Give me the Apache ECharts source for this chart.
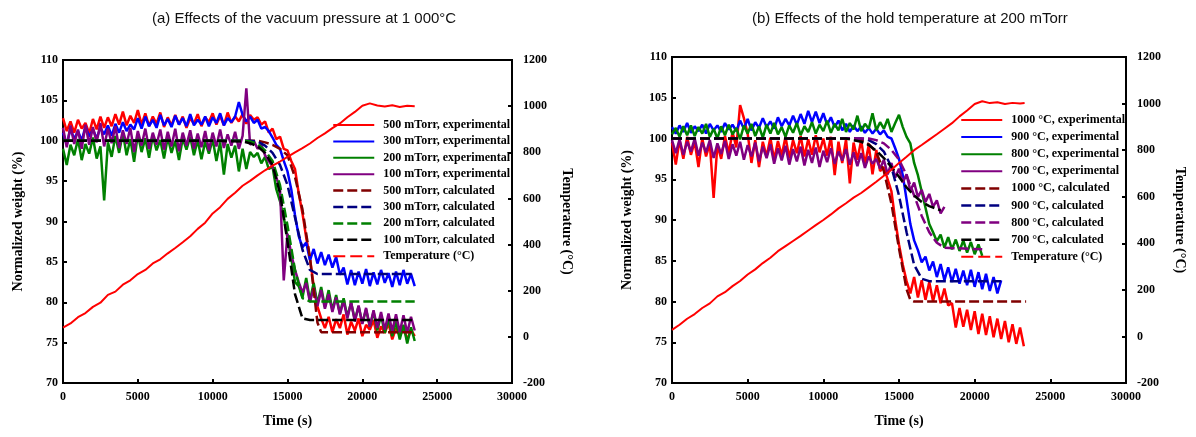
<!DOCTYPE html>
<html>
<head>
<meta charset="utf-8">
<script src="https://cdn.jsdelivr.net/npm/echarts@6/dist/echarts.min.js"></script>
<style>
html,body{margin:0;padding:0;background:#fff}
#chart{width:1196px;height:437px}
</style>
</head>
<body>
<div id="chart"></div>
<script>
// Sampling times (s) of the thermogravimetric records
const tGrid = [0,250,500,750,1000,1250,1500,1750,2000,2250,2500,2750,3000,3250,3500,3750,4000,4250,4500,4750,
  5000,5250,5500,5750,6000,6250,6500,6750,7000,7250,7500,7750,8000,8250,8500,8750,9000,9250,9500,9750,
  10000,10250,10500,10750,11000,11250,11500,11750,12000,12250,12500,12750,13000,13250,13500,13750,14000,14250,14500,14750,
  15000,15250,15500,15750,16000,16250,16500,16750,17000,17250,17500,17750,18000,18250,18500,18750,19000,19250,19500,19750,
  20000,20250,20500,20750,21000,21250,21500,21750,22000,22250,22500,22750,23000,23250,23500];

// (a) normalized weight (%) at 1000 °C for different vacuum pressures
const wA500 = [102.8,101.2,102.4,101.0,102.6,101.5,102.2,100.9,102.7,101.4,
  103.0,101.6,102.9,101.8,103.3,102.0,103.6,101.9,103.1,102.2,
  103.8,102.0,103.4,101.8,103.0,102.1,103.5,101.7,102.9,101.9,
  103.2,102.0,103.0,101.6,102.8,102.1,103.3,101.8,102.9,102.3,
  103.4,102.0,103.1,101.9,103.5,102.2,103.0,102.4,103.3,102.1,
  103.2,102.6,102.9,102.0,102.4,101.0,101.5,100.2,100.5,99.0,
  98.8,97.5,96.5,93.5,91.0,88.0,85.5,82.0,79.5,78.0,
  76.8,78.2,76.3,77.9,76.8,78.5,76.0,77.6,76.5,78.0,
  75.8,77.2,76.6,77.8,75.6,77.0,76.2,77.4,75.4,76.8,
  75.9,77.1,75.3,76.6,75.8];
const wA300 = [101.0,99.5,101.5,100.2,101.2,100.0,101.8,100.5,101.4,100.3,
  101.6,100.8,101.9,100.6,102.1,101.0,102.3,101.2,102.0,101.4,
  102.8,101.5,103.0,101.8,102.6,101.6,103.2,101.9,102.7,101.7,
  103.1,102.0,102.8,101.8,103.3,101.9,102.6,102.0,103.0,101.8,
  102.9,102.2,103.4,101.9,102.8,102.3,103.0,104.8,103.2,102.4,
  103.0,102.2,102.6,101.5,101.7,101.2,100.4,99.5,99.0,97.5,
  96.2,94.0,90.8,88.2,86.8,87.4,85.2,86.6,84.8,86.2,
  84.6,85.9,84.3,85.6,83.4,84.3,82.2,84.0,82.1,83.8,
  82.3,84.1,82.0,83.7,82.2,84.0,82.4,83.6,81.9,83.8,
  82.1,84.0,82.3,83.5,82.0];
const wA200 = [99.0,97.0,99.5,98.2,100.2,97.6,99.6,98.4,100.4,97.8,
  99.3,92.6,99.8,98.0,100.6,98.5,101.0,98.2,100.2,97.4,
  100.8,98.6,100.3,97.9,100.6,98.8,100.1,97.8,100.4,98.5,
  100.0,97.6,100.3,98.9,100.5,98.2,100.1,97.7,99.9,98.4,
  100.2,97.5,99.8,95.8,99.6,97.9,99.4,96.2,99.0,96.5,
  98.6,98.0,98.5,97.2,98.0,96.5,96.8,94.0,92.5,90.5,
  88.0,85.5,82.5,82.0,80.6,83.0,80.2,82.4,79.8,81.9,
  79.4,81.5,79.0,80.9,78.6,80.5,78.2,80.0,77.8,79.5,
  77.4,79.1,77.0,78.8,76.5,78.4,76.2,78.0,75.8,77.6,
  75.4,77.2,74.9,76.9,75.2];
const wA100 = [101.6,99.2,101.9,99.6,101.4,99.0,102.0,99.5,101.7,99.8,
  102.2,99.3,101.5,99.7,101.8,99.1,101.3,99.6,101.6,98.6,
  101.2,99.4,101.5,99.0,101.0,99.5,101.4,98.9,101.1,99.3,
  101.5,98.7,101.0,99.4,101.3,99.0,100.9,99.2,101.2,98.8,
  101.0,99.3,101.4,99.1,100.8,99.4,101.1,99.0,100.6,106.5,
  99.5,100.0,99.0,99.5,98.2,97.5,96.8,95.5,94.0,82.7,
  88.5,86.0,84.0,82.5,81.2,82.4,80.0,81.8,79.5,81.5,
  79.2,81.0,78.8,80.6,78.5,80.2,78.0,80.0,77.6,79.6,
  77.3,79.3,77.0,79.0,76.8,78.8,76.6,78.6,76.4,78.5,
  76.3,78.4,76.2,78.2,76.5];

// (a) model curves, [time, weight]
const calcA500 = [[0,100],[13000,100],[13500,99.8],[14000,99.5],[14500,99.0],[15000,98.2],[15500,95.5],[16000,91.5],[16500,85.5],[17000,77.5],[17250,76.3],[23500,76.3]];
const calcA300 = [[0,100],[12500,100],[13000,99.9],[13500,99.4],[14000,98.5],[14500,97.0],[15000,94.5],[15500,90.5],[16000,86.5],[16500,84.0],[17000,83.5],[23300,83.5]];
const calcA200 = [[0,100],[12000,100],[12500,99.9],[13000,99.6],[13500,98.8],[14000,97.5],[14500,94.5],[15000,89.5],[15500,84.0],[16000,80.5],[16500,80.1],[23500,80.1]];
const calcA100 = [[0,100],[10000,100],[12000,99.9],[12500,99.7],[13000,99.3],[13500,98.5],[14000,97.0],[14500,93.5],[15000,87.5],[15500,81.0],[16000,78.0],[16500,77.8],[23500,77.8]];

// (a) furnace temperature (°C)
const tTempA = [0,500,1000,1500,2000,2500,3000,3500,4000,4500,5000,5500,6000,6500,7000,7500,8000,8500,9000,9500,
  10000,10500,11000,11500,12000,12500,13000,13500,14000,14500,15000,15500,16000,16500,17000,17500,18000,18500,19000,19500,
  20000,20500,21000,21500,22000,22500,23000,23500];
const tempA = [40,58,85,103,130,148,182,196,226,245,272,290,318,336,362,385,410,436,468,495,
  535,562,598,625,655,676,700,722,742,760,780,800,818,838,862,882,905,925,952,975,
  1002,1012,1003,998,1004,996,1002,1000];

// (b) normalized weight (%) at 200 mTorr for different hold temperatures
const wB1000 = [99.5,96.8,99.8,97.5,100.2,98.0,99.6,96.5,100.0,97.8,
  99.4,92.7,99.2,97.5,100.3,98.2,100.8,98.9,104.1,102.5,
  100.6,97.0,99.8,96.5,99.6,97.8,100.1,97.4,99.7,97.9,
  100.2,97.6,99.8,98.2,100.3,97.8,99.9,98.0,100.4,98.3,
  100.0,97.9,100.2,95.5,99.6,97.0,99.9,94.5,99.5,97.4,
  99.8,96.8,99.2,95.6,98.6,96.0,96.5,95.0,93.5,90.0,
  87.0,84.5,82.5,81.0,83.0,80.5,82.6,80.2,82.4,80.0,
  82.0,79.8,81.6,79.5,79.8,76.8,79.2,76.9,79.0,76.5,
  78.8,76.0,78.5,75.9,78.2,75.6,77.9,75.4,77.6,75.0,
  77.2,74.8,76.8,74.5];
const wB900 = [101.4,100.6,101.6,100.8,101.9,100.7,101.5,100.9,101.7,100.6,
  101.8,101.0,101.6,100.8,101.9,101.1,101.7,100.9,102.2,101.2,
  102.4,101.0,102.0,101.3,102.5,101.4,102.1,101.2,102.6,101.5,
  102.4,101.6,102.8,101.7,103.0,101.8,103.4,102.0,103.3,101.9,
  103.1,101.7,102.6,101.4,102.2,101.0,101.8,100.8,101.6,100.9,
  101.5,100.7,101.3,100.6,101.2,100.5,101.0,100.2,100.0,98.8,
  97.5,95.5,92.5,89.5,87.5,86.3,84.8,85.5,83.8,84.9,
  83.0,84.6,82.6,84.2,82.4,84.0,82.2,83.8,82.0,83.9,
  81.8,83.6,81.5,83.4,81.3,83.0,81.0,82.6];
const wB800 = [100.5,101.3,100.2,101.5,100.4,101.6,100.3,101.4,100.6,101.8,
  100.2,101.2,100.0,101.5,100.4,101.7,100.5,101.3,99.9,101.6,
  100.6,101.8,100.3,101.5,100.1,101.7,100.6,101.9,100.5,101.4,
  100.2,101.6,100.7,101.9,100.4,101.5,100.8,102.0,100.6,101.7,
  100.9,102.2,100.7,101.8,101.0,102.4,100.8,101.9,101.1,102.8,
  100.9,101.8,101.2,103.1,101.0,102.0,101.2,102.4,100.8,101.9,
  102.9,101.4,100.2,99.4,97.0,95.5,93.5,91.5,89.5,88.5,
  87.4,88.2,86.6,87.9,86.4,87.6,86.2,87.5,86.0,87.3,
  85.8,87.0,85.6];
const wB700 = [99.8,98.2,99.9,98.0,99.6,98.4,100.0,97.9,99.5,98.3,
  99.8,97.6,99.4,98.1,99.7,97.5,99.3,97.9,99.6,97.4,
  99.2,97.8,99.5,97.2,99.0,97.6,99.3,96.9,98.8,97.3,
  99.1,96.8,98.7,97.2,99.0,96.7,98.6,97.0,98.9,96.5,
  98.5,97.1,98.8,96.9,98.4,97.3,98.7,96.8,98.3,96.6,
  98.2,96.4,97.8,96.9,97.5,96.3,97.4,95.6,97.0,95.2,
  96.3,94.6,95.6,93.6,94.6,92.8,93.7,92.2,93.2,91.6,
  92.4,90.8,91.6];

// (b) model curves, [time, weight]
const calcB1000 = [[0,100],[12000,100],[12500,99.8],[13000,99.3],[13500,98.3],[14000,96.0],[14500,92.0],[15000,86.5],[15500,81.5],[15750,80.2],[16000,80.0],[23400,80.0]];
const calcB900 = [[0,100],[12500,100],[13000,99.8],[13500,99.3],[14000,98.4],[14500,96.5],[15000,93.0],[15500,88.5],[16000,84.5],[16500,82.8],[17000,82.5],[21750,82.5]];
const calcB800 = [[0,100],[13000,100],[13500,99.8],[14000,99.4],[14500,98.6],[15000,97.4],[15500,95.5],[16000,93.0],[16500,90.5],[17000,88.5],[17500,87.2],[18000,86.6],[20500,86.4]];
const calcB700 = [[0,100],[11500,100],[12500,99.6],[13000,99.2],[13500,98.5],[14000,97.6],[14500,96.5],[15000,95.3],[15500,94.0],[16000,93.0],[16500,92.2],[17000,91.7],[17750,91.2]];

// (b) furnace temperature (°C)
const tTempB = [0,500,1000,1500,2000,2500,3000,3500,4000,4500,5000,5500,6000,6500,7000,7500,8000,8500,9000,9500,
  10000,10500,11000,11500,12000,12500,13000,13500,14000,14500,15000,15500,16000,16500,17000,17500,18000,18500,19000,19500,
  20000,20500,21000,21500,22000,22500,23000,23300];
const tempB = [28,50,76,96,122,142,172,190,216,238,266,288,315,338,366,388,410,432,455,478,
  500,524,550,572,596,616,640,664,690,716,745,772,800,822,845,868,892,916,945,970,
  998,1010,1002,1006,998,1003,1000,1002];

const xTicks = [0, 30000, 5000];        // min, max, step
const wTicks = [70, 110, 5];
const tempTicks = [-200, 1200, 200];

const namesA = ['500 mTorr, experimental','300 mTorr, experimental','200 mTorr, experimental','100 mTorr, experimental',
  '500 mTorr, calculated','300 mTorr, calculated','200 mTorr, calculated','100 mTorr, calculated','Temperature (°C)'];
const namesB = ['1000 °C, experimental','900 °C, experimental','800 °C, experimental','700 °C, experimental',
  '1000 °C, calculated','900 °C, calculated','800 °C, calculated','700 °C, calculated','Temperature (°C)'];

const C = {red:'#ff0000', blue:'#0000ff', green:'#008000', purple:'#800080', darkred:'#800000', navy:'#000080', black:'#000000'};

function zip(t, v) { return v.map((y, i) => [t[i], y]); }
const plain = v => String(v);

const SERIF = '"Liberation Serif", "Times New Roman", serif';
const tickText = {fontFamily: SERIF, fontWeight: 'bold', fontSize: 12, color: '#000', formatter: plain};
const nameText = {fontFamily: SERIF, fontWeight: 'bold', fontSize: 14, color: '#000'};
const axLine = {show: true, onZero: false, lineStyle: {color: '#000', width: 2}};
const axTick = {show: true, inside: true, length: 4, lineStyle: {color: '#000', width: 2}};

function xAxisFor(g) {
  return {type: 'value', gridIndex: g, min: xTicks[0], max: xTicks[1], interval: xTicks[2],
    name: 'Time (s)', nameLocation: 'middle', nameGap: 31, nameTextStyle: nameText,
    axisLine: axLine, axisTick: axTick, axisLabel: Object.assign({margin: 8}, tickText), splitLine: {show: false}};
}
function wAxisFor(g) {
  return {type: 'value', gridIndex: g, position: 'left', min: wTicks[0], max: wTicks[1], interval: wTicks[2],
    name: 'Normalized weight (%)', nameLocation: 'middle', nameGap: 38, nameRotate: 90, nameTextStyle: nameText,
    axisLine: axLine, axisTick: axTick, axisLabel: Object.assign({margin: 5}, tickText), splitLine: {show: false}};
}
function tAxisFor(g, gap) {
  return {type: 'value', gridIndex: g, position: 'right', min: tempTicks[0], max: tempTicks[1], interval: tempTicks[2],
    name: 'Temperature (°C)', nameLocation: 'middle', nameGap: gap, nameRotate: -90, nameTextStyle: nameText,
    axisLine: axLine, axisTick: axTick, axisLabel: Object.assign({margin: 11}, tickText), splitLine: {show: false}};
}

function exp(name, data, color, xi, yi, w) {
  return {type: 'line', name, data, xAxisIndex: xi, yAxisIndex: yi, symbol: 'none', showSymbol: false,
    lineStyle: {color, width: w || 2.5, join: 'bevel'}, itemStyle: {color}, silent: true};
}
function calc(name, data, color, xi, yi) {
  return {type: 'line', name, data, xAxisIndex: xi, yAxisIndex: yi, symbol: 'none', showSymbol: false,
    lineStyle: {color, width: 2.5, type: [10, 4]}, itemStyle: {color}, silent: true};
}

function legendFor(names, left, top, gap) {
  return {orient: 'vertical', left, top, padding: 0, itemWidth: 41, itemHeight: 10, itemGap: gap,
    selectedMode: false,
    itemStyle: {opacity: 0},
    textStyle: {fontFamily: SERIF, fontWeight: 'bold', fontSize: 12, lineHeight: 12, color: '#000', padding: [0, 0, 0, 4]},
    data: names.map((n, i) => i === 8 ? {name: n, lineStyle: {type: [12, 5], width: 2}} : {name: n, lineStyle: {width: i < 4 ? 2 : 2.5}})};
}

const chart = echarts.init(document.getElementById('chart'), null, {renderer: 'canvas'});
chart.setOption({
  animation: false,
  backgroundColor: '#fff',
  title: [
    {text: '(a) Effects of the vacuum pressure at 1 000°C', left: 152, top: 11, padding: 0,
     textStyle: {fontFamily: '"Liberation Sans", Arial, sans-serif', fontWeight: 'normal', fontSize: 15, color: '#111'}},
    {text: '(b) Effects of the hold temperature at 200 mTorr', left: 752, top: 11, padding: 0,
     textStyle: {fontFamily: '"Liberation Sans", Arial, sans-serif', fontWeight: 'normal', fontSize: 15, color: '#111'}}
  ],
  grid: [
    {left: 63, top: 60, width: 449, height: 323, show: true, borderColor: '#000', borderWidth: 2, backgroundColor: 'transparent'},
    {left: 672, top: 57, width: 454, height: 326, show: true, borderColor: '#000', borderWidth: 2, backgroundColor: 'transparent'}
  ],
  xAxis: [xAxisFor(0), xAxisFor(1)],
  yAxis: [wAxisFor(0), tAxisFor(0, 48), wAxisFor(1), tAxisFor(1, 47)],
  legend: [legendFor(namesA, 332, 119, 4.4), legendFor(namesB, 960, 114, 5.1)],
  series: [
    exp(namesA[0], zip(tGrid, wA500), C.red, 0, 0),
    exp(namesA[1], zip(tGrid, wA300), C.blue, 0, 0),
    exp(namesA[2], zip(tGrid, wA200), C.green, 0, 0),
    exp(namesA[3], zip(tGrid, wA100), C.purple, 0, 0),
    calc(namesA[4], calcA500, C.darkred, 0, 0),
    calc(namesA[5], calcA300, C.navy, 0, 0),
    calc(namesA[6], calcA200, C.green, 0, 0),
    calc(namesA[7], calcA100, C.black, 0, 0),
    exp(namesA[8], zip(tTempA, tempA), C.red, 0, 1, 2),

    exp(namesB[0], zip(tGrid, wB1000), C.red, 1, 2),
    exp(namesB[1], zip(tGrid, wB900), C.blue, 1, 2),
    exp(namesB[2], zip(tGrid, wB800), C.green, 1, 2),
    exp(namesB[3], zip(tGrid, wB700), C.purple, 1, 2),
    calc(namesB[4], calcB1000, C.darkred, 1, 2),
    calc(namesB[5], calcB900, C.navy, 1, 2),
    calc(namesB[6], calcB800, C.purple, 1, 2),
    calc(namesB[7], calcB700, C.black, 1, 2),
    exp(namesB[8], zip(tTempB, tempB), C.red, 1, 3, 2)
  ]
});
</script>
</body>
</html>
